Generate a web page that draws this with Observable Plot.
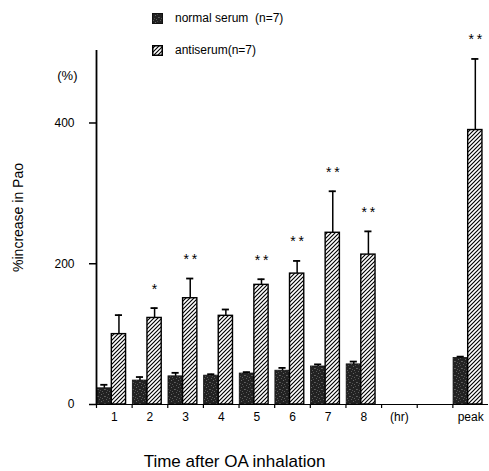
<!DOCTYPE html>
<html>
<head>
<meta charset="utf-8">
<script src="https://cdn.jsdelivr.net/npm/d3@7"></script>
<script src="https://cdn.jsdelivr.net/npm/@observablehq/plot@0.6"></script>
<style>
  body { margin: 0; background: white; font-family: "Liberation Sans", Arial, Helvetica, sans-serif; }
  #wrap { position: relative; width: 489px; height: 471px; }
  #legend { position: absolute; left: 152px; top: 8px; font-size: 12px; color: #000; }
  .row { display: flex; align-items: center; height: 20px; margin-bottom: 12px; }
  .row svg { margin-right: 12px; }
</style>
</head>
<body>
<div id="wrap">
  <div id="legend">
    <svg width="0" height="0" style="position:absolute">
      <defs>
        <pattern id="hatch" patternUnits="userSpaceOnUse" width="4" height="4">
          <rect width="4" height="4" fill="white"/>
          <path d="M-1,1 l2,-2 M0,4 l4,-4 M3,5 l2,-2" stroke="black" stroke-width="1.15"/>
        </pattern>
        <pattern id="stipple" patternUnits="userSpaceOnUse" width="7" height="7">
          <rect width="7" height="7" fill="#222"/>
          <rect x="1" y="0" width="1" height="1" fill="#5a5a5a"/>
          <rect x="5" y="1" width="1" height="1" fill="#4a4a4a"/>
          <rect x="3" y="2" width="1" height="1" fill="#666"/>
          <rect x="0" y="4" width="1" height="1" fill="#555"/>
          <rect x="6" y="4" width="1" height="1" fill="#606060"/>
          <rect x="2" y="5" width="1" height="1" fill="#4f4f4f"/>
          <rect x="4" y="6" width="1" height="1" fill="#5c5c5c"/>
        </pattern>
      </defs>
    </svg>
    <div class="row"><svg width="11" height="11"><rect x="0.5" y="0.5" width="10" height="10" fill="url(#stipple)" stroke="#111"/></svg><span>normal serum&nbsp; (n=7)</span></div>
    <div class="row"><svg width="11" height="11"><rect x="0.75" y="0.75" width="9.5" height="9.5" fill="url(#hatch)" stroke="#000" stroke-width="1.5"/></svg><span>antiserum(n=7)</span></div>
  </div>
  <div id="chart"></div>
</div>
<script>
// ---- data ----
const groups = ["1", "2", "3", "4", "5", "6", "7", "8", "peak"];
const xLabels = ["1", "2", "3", "4", "5", "6", "7", "8", "(hr)", "", "peak"];
const normalMean = [23, 34, 40, 41, 44, 48, 54, 57, 66];
const normalErr = [5, 5, 5, 2, 2, 4, 3, 4, 2];
const antiMean = [100, 123, 151, 126, 170, 186, 244, 213, 390];
const antiErr = [27, 14, 28, 9, 8, 18, 59, 33, 101];
const signif = ["", "*", "**", "", "**", "**", "**", "**", "**"];
const yTicks = [0, 200, 400];
const yLabel = "%increase in Pao";
const yUnit = "(%)";
const xTitle = "Time after OA inhalation";

const rows = groups.map((g, k) => ({
  group: g,
  slot: xLabels.indexOf(g),
  normal: normalMean[k], normalErr: normalErr[k],
  anti: antiMean[k], antiErr: antiErr[k],
  sig: signif[k].split("").join("\u2009")
}));

const D0 = 0.02, D1 = 0.42, H0 = 0.43, H1 = 0.83;
const dc = (D0 + D1) / 2, hc = (H0 + H1) / 2, cap = 0.1;

const chart = Plot.plot({
  width: 489,
  height: 471,
  marginLeft: 96,
  marginRight: 1,
  marginTop: 50,
  marginBottom: 67,
  style: { fontFamily: "'Liberation Sans', Arial, Helvetica, sans-serif", fontSize: "12px", color: "black", background: "white" },
  x: { domain: [0, xLabels.length], axis: null },
  y: { domain: [0, 503], axis: null },
  marks: [
    // bars
    Plot.rectY(rows, { x1: d => d.slot + D0, x2: d => d.slot + D1, y1: 0, y2: "normal", fill: "url(#stipple)", stroke: "#111", strokeWidth: 0.8 }),
    Plot.rectY(rows, { x1: d => d.slot + H0, x2: d => d.slot + H1, y1: 0, y2: "anti", fill: "url(#hatch)", stroke: "black", strokeWidth: 1.4 }),
    // error bars (upward only)
    Plot.ruleX(rows, { x: d => d.slot + dc, y1: "normal", y2: d => d.normal + d.normalErr, stroke: "black", strokeWidth: 1.5 }),
    Plot.ruleY(rows, { y: d => d.normal + d.normalErr, x1: d => d.slot + dc - cap, x2: d => d.slot + dc + cap, stroke: "black", strokeWidth: 1.8 }),
    Plot.ruleX(rows, { x: d => d.slot + hc, y1: "anti", y2: d => d.anti + d.antiErr, stroke: "black", strokeWidth: 1.5 }),
    Plot.ruleY(rows, { y: d => d.anti + d.antiErr, x1: d => d.slot + hc - cap, x2: d => d.slot + hc + cap, stroke: "black", strokeWidth: 1.8 }),
    // significance stars
    Plot.text(rows, { x: d => d.slot + hc, y: d => d.anti + d.antiErr, text: "sig", dy: -19, fontSize: 14, fill: "black" }),
    // axes lines
    Plot.ruleY([0], { x1: -0.08, x2: xLabels.length, stroke: "black", strokeWidth: 1.2 }),
    Plot.ruleX([0], { y1: 0, y2: 503, stroke: "black", strokeWidth: 1.8 }),
    // y axis ticks + labels
    Plot.axisY({ ticks: yTicks, tickSize: 7, tickPadding: 15, label: null, fontSize: 12, strokeWidth: 1.5 }),
    // x axis boundary ticks
    Plot.axisX({ ticks: d3.range(0, xLabels.length), tickSize: 4, tickFormat: () => "", label: null, strokeWidth: 1.2 }),
    // x axis category labels
    Plot.axisX({ ticks: xLabels.map((_, i) => i + 0.5), tickSize: 0, tickPadding: 8, tickFormat: d => xLabels[Math.round(d - 0.5)], label: null, fontSize: 12 }),
    // axis titles
    Plot.text([yLabel], { frameAnchor: "left", textAnchor: "middle", rotate: -90, dx: -78, dy: -10, fontSize: 14, fill: "black" }),
    Plot.text([yUnit], { frameAnchor: "top-left", textAnchor: "end", dx: -19, dy: 20, fontSize: 13, fill: "black" }),
    Plot.text([xTitle], { frameAnchor: "bottom", textAnchor: "middle", dx: -58, dy: 62, fontSize: 17, fill: "black" })
  ]
});
document.getElementById("chart").appendChild(chart);
</script>
</body>
</html>
